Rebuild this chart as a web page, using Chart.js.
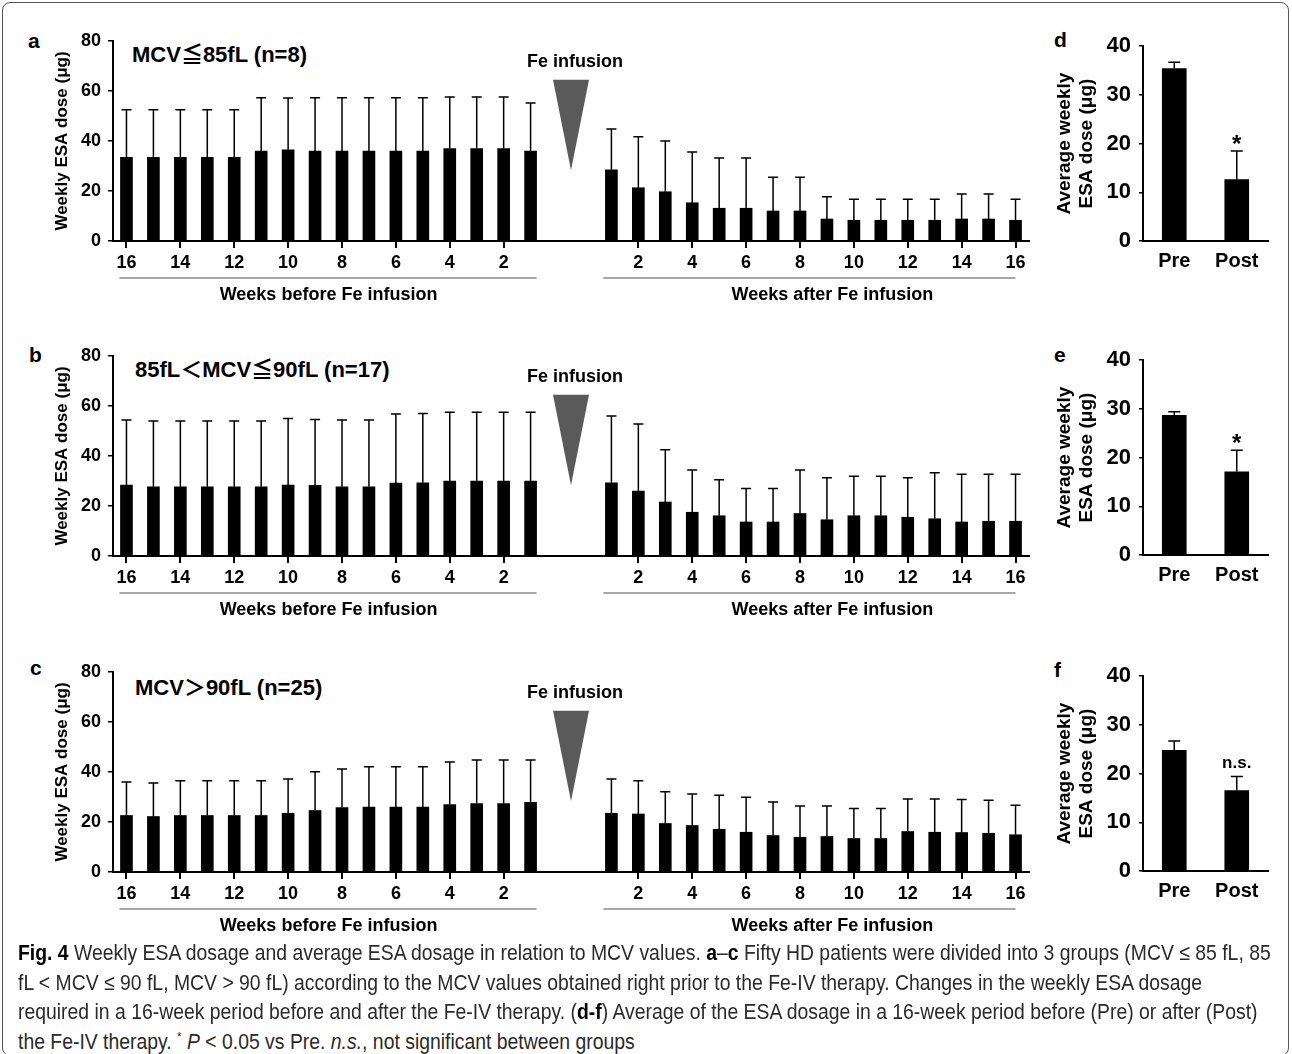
<!DOCTYPE html>
<html>
<head>
<meta charset="utf-8">
<script src="https://cdn.jsdelivr.net/npm/chart.js@4.4.0/dist/chart.umd.min.js"></script>
<style>
body { margin: 0; background: #fff; }
#fig { position: relative; width: 1292px; height: 1054px; overflow: hidden; font-family: 'Liberation Sans', Arial, 'Noto Sans CJK JP', sans-serif; color: #000; }
#frame { position: absolute; left: 2px; top: 2px; width: 1287px; height: 1054px; border: 1.5px solid #555; border-radius: 8px; box-sizing: border-box; }
canvas { position: absolute; }
.lbl { position: absolute; font-weight: bold; line-height: 1; white-space: nowrap; }
.cap { position: absolute; left: 18px; font-family: 'Liberation Sans Narrow', 'Liberation Sans', sans-serif; font-size: 22px; line-height: 1; white-space: nowrap; color: #2a2a2a; transform-origin: 0 0; }
.cap b { color: #000; }
</style>
</head>
<body>
<div id="fig">
  <div id="frame"></div>

  <div class="lbl" style="left:28px;top:30px;font-size:21px;">a</div>
  <div class="lbl" style="left:29px;top:344px;font-size:21px;">b</div>
  <div class="lbl" style="left:30px;top:657px;font-size:21px;">c</div>
  <div class="lbl" style="left:1054px;top:29px;font-size:21px;">d</div>
  <div class="lbl" style="left:1054px;top:344px;font-size:21px;">e</div>
  <div class="lbl" style="left:1054px;top:659px;font-size:21px;">f</div>

  <div class="lbl" style="left:132px;top:44px;font-size:22px;">MCV≦85fL (n=8)</div>
  <div class="lbl" style="left:135px;top:359px;font-size:22px;">85fL＜MCV≦90fL (n=17)</div>
  <div class="lbl" style="left:135px;top:677px;font-size:22px;">MCV＞90fL (n=25)</div>

  <canvas id="chartA" width="992" height="300" style="left:48px;top:20px;"></canvas>
  <canvas id="chartB" width="992" height="300" style="left:48px;top:335px;"></canvas>
  <canvas id="chartC" width="992" height="300" style="left:48px;top:651px;"></canvas>
  <canvas id="chartD" width="230" height="250" style="left:1050px;top:25px;"></canvas>
  <canvas id="chartE" width="230" height="250" style="left:1050px;top:339px;"></canvas>
  <canvas id="chartF" width="230" height="250" style="left:1050px;top:655px;"></canvas>

  <div class="cap" style="top:942px;"><b>Fig. 4</b> Weekly ESA dosage and average ESA dosage in relation to MCV values. <b>a</b>–<b>c</b> Fifty HD patients were divided into 3 groups (MCV ≤ 85 fL, 85</div>
  <div class="cap" style="top:972px;">fL &lt; MCV ≤ 90 fL, MCV &gt; 90 fL) according to the MCV values obtained right prior to the Fe-IV therapy. Changes in the weekly ESA dosage</div>
  <div class="cap" style="top:1001px;">required in a 16-week period before and after the Fe-IV therapy. (<b>d-f</b>) Average of the ESA dosage in a 16-week period before (Pre) or after (Post)</div>
  <div class="cap" style="top:1030px;">the Fe-IV therapy. <sup style="font-size:13px;">*</sup> <i>P</i> &lt; 0.05 vs Pre. <i>n.s.</i>, not significant between groups</div>
</div>

<script>
const weeksBefore = [16, 15, 14, 13, 12, 11, 10, 9, 8, 7, 6, 5, 4, 3, 2, 1];
const weeksAfter = [1, 2, 3, 4, 5, 6, 7, 8, 9, 10, 11, 12, 13, 14, 15, 16];
const yTicksWeekly = [0, 20, 40, 60, 80];
const yTicksAverage = [0, 10, 20, 30, 40];
const periods = ['Pre', 'Post'];

// a: MCV <= 85 fL
const aBeforeMean = [33.5, 33.5, 33.5, 33.5, 33.5, 36, 36.5, 36, 36, 36, 36, 36, 37, 37, 37, 36];
const aBeforeSD = [19, 19, 19, 19, 19, 21.3, 20.7, 21.3, 21.3, 21.3, 21.3, 21.3, 20.6, 20.6, 20.6, 19.2];
const aAfterMean = [28.5, 21.3, 19.7, 15.3, 13.1, 13.1, 12, 12, 8.8, 8.3, 8.3, 8.3, 8.3, 8.8, 8.8, 8.3];
const aAfterSD = [16.3, 20.4, 20.3, 20.3, 20.1, 20.1, 13.5, 13.5, 8.9, 8.4, 8.4, 8.4, 8.4, 10, 10, 8.4];

// b: 85 < MCV <= 90 fL
const bBeforeMean = [28.4, 27.7, 27.7, 27.7, 27.7, 27.7, 28.4, 28.3, 27.7, 27.7, 29.2, 29.3, 30, 30, 30, 30];
const bBeforeSD = [26, 26.3, 26.3, 26.3, 26.3, 26.3, 26.6, 26.3, 26.7, 26.7, 27.6, 27.7, 27.5, 27.5, 27.5, 27.5];
const bAfterMean = [29.3, 26, 21.6, 17.5, 16.1, 13.6, 13.6, 17, 14.5, 16.1, 16.1, 15.5, 14.9, 13.6, 13.9, 13.9];
const bAfterSD = [26.7, 26.8, 20.9, 16.9, 14.4, 13.4, 13.4, 17.4, 16.8, 15.8, 15.8, 15.8, 18.4, 19.1, 18.8, 18.8];

// c: MCV > 90 fL
const cBeforeMean = [22.6, 22.2, 22.6, 22.6, 22.6, 22.6, 23.5, 24.6, 25.8, 26, 26, 26, 27, 27.4, 27.4, 27.9];
const cBeforeSD = [13.4, 13.4, 13.9, 13.9, 13.9, 13.9, 13.7, 15.5, 15.4, 16.1, 16.1, 16.1, 17, 17.4, 17.4, 16.9];
const cAfterMean = [23.5, 23.2, 19.4, 18.6, 17.1, 15.9, 14.6, 13.9, 14.2, 13.4, 13.4, 16.2, 15.9, 15.8, 15.5, 14.9];
const cAfterSD = [13.7, 13.3, 12.7, 12.6, 13.6, 14, 13.4, 12.5, 12.2, 12, 12, 13, 13.3, 13.2, 13.2, 11.8];

// d-f: average weekly dose, Pre vs Post
const dMean = [35.4, 12.6];
const dSD = [1.3, 5.9];
const dMarks = ['', '*'];
const eMean = [28.7, 17.1];
const eSD = [0.7, 4.4];
const eMarks = ['', '*'];
const fMean = [24.8, 16.5];
const fSD = [1.9, 2.9];
const fMarks = ['', 'n.s.'];

const FONT = "'Liberation Sans', Arial, sans-serif";
Chart.defaults.font.family = FONT;
Chart.defaults.color = '#000';

// upward-only error bars (mean + SD)
const errorBars = {
    id: 'errorBars',
    afterDatasetsDraw(chart) {
        const ctx = chart.ctx;
        const y = chart.scales.y;
        chart.data.datasets.forEach((ds, di) => {
            const meta = chart.getDatasetMeta(di);
            const capHalf = ds.capHalf || 5;
            ctx.save();
            ctx.strokeStyle = '#000';
            ctx.lineWidth = 1.5;
            meta.data.forEach((bar, i) => {
                const m = ds.data[i];
                if (m == null) return;
                const top = y.getPixelForValue(m + ds.sd[i]);
                const base = y.getPixelForValue(m);
                ctx.beginPath();
                ctx.moveTo(bar.x, base);
                ctx.lineTo(bar.x, top);
                ctx.moveTo(bar.x - capHalf, top);
                ctx.lineTo(bar.x + capHalf, top);
                ctx.stroke();
                const mark = ds.marks && ds.marks[i];
                if (mark) {
                    ctx.fillStyle = '#000';
                    ctx.textAlign = 'center';
                    ctx.textBaseline = 'alphabetic';
                    if (mark === '*') {
                        ctx.font = 'bold 24px ' + FONT;
                        ctx.fillText(mark, bar.x, top + 1);
                    } else {
                        ctx.font = 'bold 17px ' + FONT;
                        ctx.fillText(mark, bar.x, top - 9);
                    }
                }
            });
            ctx.restore();
        });
    }
};

// Fe infusion arrow between the two periods
const feMarker = {
    id: 'feMarker',
    afterDraw(chart) {
        const ctx = chart.ctx;
        const x = chart.scales.x, y = chart.scales.y;
        const cx = (x.getPixelForValue(16) + x.getPixelForValue(17)) / 2;
        const top = y.getPixelForValue(64.5);
        const tip = y.getPixelForValue(28.3);
        ctx.save();
        ctx.fillStyle = '#5a5a5a';
        ctx.beginPath();
        ctx.moveTo(cx - 18, top);
        ctx.lineTo(cx + 18, top);
        ctx.lineTo(cx, tip);
        ctx.closePath();
        ctx.fill();
        ctx.fillStyle = '#000';
        ctx.font = 'bold 18px ' + FONT;
        ctx.textAlign = 'center';
        ctx.textBaseline = 'middle';
        ctx.fillText('Fe infusion', cx + 4, y.getPixelForValue(80) + 21);
        ctx.restore();
    }
};

// grey bracket lines + period labels under the x axis
const weekGroups = {
    id: 'weekGroups',
    afterDraw(chart) {
        const ctx = chart.ctx;
        const x = chart.scales.x;
        const base = chart.chartArea.bottom;
        const b0 = x.getPixelForValue(0), b1 = x.getPixelForValue(15);
        const a0 = x.getPixelForValue(18), a1 = x.getPixelForValue(33);
        ctx.save();
        ctx.strokeStyle = '#8c8c8c';
        ctx.lineWidth = 1.5;
        ctx.beginPath();
        ctx.moveTo(b0 - 7, base + 37);
        ctx.lineTo(b1 + 6, base + 37);
        ctx.moveTo(a0 - 8, base + 37);
        ctx.lineTo(a1, base + 37);
        ctx.stroke();
        ctx.fillStyle = '#000';
        ctx.font = 'bold 18px ' + FONT;
        ctx.textAlign = 'center';
        ctx.textBaseline = 'middle';
        ctx.fillText('Weeks before Fe infusion', (b0 + b1) / 2, base + 54);
        ctx.fillText('Weeks after Fe infusion', (a0 + a1) / 2 + 19, base + 54);
        ctx.restore();
    }
};

function timeChart(id, beforeMean, beforeSD, afterMean, afterSD) {
    const labels = [...weeksBefore.map(String), '', '', ...weeksAfter.map(String)];
    const means = [...beforeMean, null, null, ...afterMean];
    const sds = [...beforeSD, null, null, ...afterSD];
    const shown = l => l !== '' && Number(l) % 2 === 0;
    return new Chart(document.getElementById(id), {
        type: 'bar',
        data: {
            labels: labels,
            datasets: [{ data: means, sd: sds, backgroundColor: '#000', barThickness: 12, capHalf: 5 }]
        },
        options: {
            responsive: false,
            animation: false,
            layout: { padding: { top: 21, right: 11, left: 0, bottom: 0 } },
            plugins: { legend: { display: false }, tooltip: { enabled: false } },
            scales: {
                x: {
                    grid: {
                        offset: false, drawOnChartArea: false, tickLength: 7, lineWidth: 2,
                        color: c => shown(labels[c.index]) ? '#000' : 'rgba(0,0,0,0)'
                    },
                    border: { color: '#000', width: 2 },
                    ticks: {
                        autoSkip: false, maxRotation: 0, padding: 4,
                        font: { size: 18, weight: 'bold' },
                        callback: (v, i) => shown(labels[i]) ? labels[i] : ''
                    },
                    afterFit: s => { s.height = 79; }
                },
                y: {
                    min: yTicksWeekly[0],
                    max: yTicksWeekly[yTicksWeekly.length - 1],
                    afterBuildTicks: s => { s.ticks = yTicksWeekly.map(v => ({ value: v })); },
                    grid: { drawOnChartArea: false, tickLength: 5, lineWidth: 1.5, color: '#000' },
                    border: { color: '#000', width: 2 },
                    ticks: { padding: 7, font: { size: 18, weight: 'bold' } },
                    title: {
                        display: true, text: 'Weekly ESA dose (μg)',
                        font: { size: 17, weight: 'bold' }, padding: { top: 4, bottom: 0 }
                    },
                    afterFit: s => { s.width = 65; }
                }
            }
        },
        plugins: [errorBars, feMarker, weekGroups]
    });
}

function avgChart(id, means, sds, marks) {
    return new Chart(document.getElementById(id), {
        type: 'bar',
        data: {
            labels: periods,
            datasets: [{ data: means, sd: sds, marks: marks, backgroundColor: '#000', barThickness: 24, capHalf: 6 }]
        },
        options: {
            responsive: false,
            animation: false,
            layout: { padding: { top: 21, right: 12, left: 0, bottom: 0 } },
            plugins: { legend: { display: false }, tooltip: { enabled: false } },
            scales: {
                x: {
                    grid: { display: false },
                    border: { color: '#000', width: 2 },
                    ticks: { padding: 0, font: { size: 20, weight: 'bold' } },
                    afterFit: s => { s.height = 34; }
                },
                y: {
                    min: yTicksAverage[0],
                    max: yTicksAverage[yTicksAverage.length - 1],
                    afterBuildTicks: s => { s.ticks = yTicksAverage.map(v => ({ value: v })); },
                    grid: { drawOnChartArea: false, tickLength: 4, lineWidth: 1.5, color: '#000' },
                    border: { color: '#000', width: 2 },
                    ticks: { padding: 8, font: { size: 22, weight: 'bold' } },
                    title: {
                        display: true, text: ['Average weekly', 'ESA dose (μg)'],
                        font: { size: 19, weight: 'bold', lineHeight: 1.2 }, padding: { top: 3, bottom: 0 }
                    },
                    afterFit: s => { s.width = 93; }
                }
            }
        },
        plugins: [errorBars]
    });
}

timeChart('chartA', aBeforeMean, aBeforeSD, aAfterMean, aAfterSD);
timeChart('chartB', bBeforeMean, bBeforeSD, bAfterMean, bAfterSD);
timeChart('chartC', cBeforeMean, cBeforeSD, cAfterMean, cAfterSD);
avgChart('chartD', dMean, dSD, dMarks);
avgChart('chartE', eMean, eSD, eMarks);
avgChart('chartF', fMean, fSD, fMarks);

// fit the caption lines to the width of the figure text block
const capLines = document.querySelectorAll('.cap');
const scale = 1253 / capLines[0].scrollWidth;
capLines.forEach(el => { el.style.transform = 'scaleX(' + scale + ')'; });
</script>
</body>
</html>
